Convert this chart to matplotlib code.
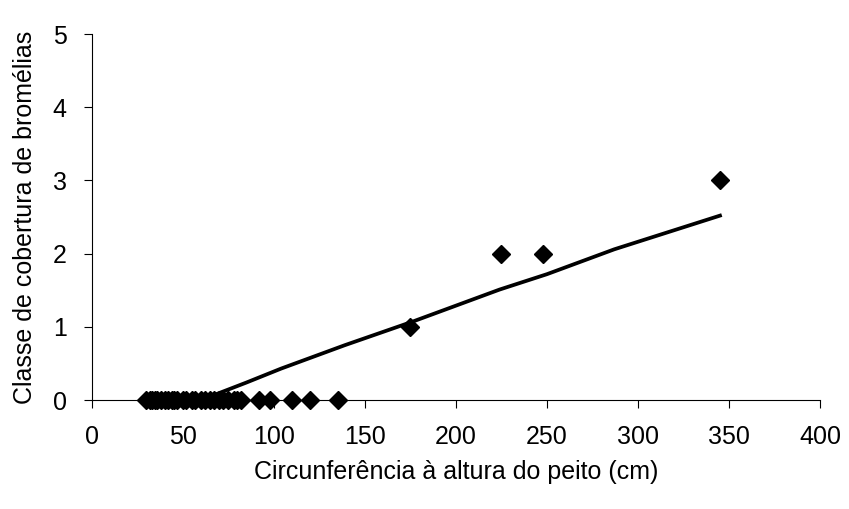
import matplotlib
matplotlib.use("Agg")
import matplotlib.pyplot as plt

plt.rcParams["font.family"] = ["Liberation Sans", "DejaVu Sans"]

# observed points
cap = [30, 32, 33, 35, 36, 38, 40, 42, 44, 45, 47, 50, 52, 55, 57, 60, 62,
       65, 67, 70, 72, 75, 78, 80, 82, 92, 98, 110, 120, 135,
       175, 225, 248, 345]
classe = [0] * 30 + [1, 2, 2, 3]

# fitted curve
fit_x = [30, 60, 85, 104, 139, 176, 224, 250, 287, 345]
fit_y = [0, 0, 0.24, 0.43, 0.75, 1.07, 1.51, 1.72, 2.06, 2.52]

fig = plt.figure(figsize=(8.49, 5.09), dpi=100)
ax = fig.add_axes([0.108, 0.214, 0.858, 0.719])

ax.plot(fit_x, fit_y, color="black", lw=2.7, zorder=2)
ax.plot(cap, classe, linestyle="none", marker="D", markersize=9.5,
        color="black", zorder=3, clip_on=False)

ax.set_xlim(0, 400)
ax.set_ylim(0, 5)
ax.set_xticks(range(0, 401, 50))
ax.set_yticks(range(0, 6))
ax.spines["top"].set_visible(False)
ax.spines["right"].set_visible(False)
for s in ["left", "bottom"]:
    ax.spines[s].set_color("black")
    ax.spines[s].set_linewidth(0.8)
ax.tick_params(direction="out", length=6, width=0.8, labelsize=18)
ax.tick_params(axis="x", pad=12)
ax.tick_params(axis="y", pad=12)

ax.set_xlabel("Circunferência à altura do peito (cm)", fontsize=18, labelpad=8)
ax.set_ylabel("Classe de cobertura de bromélias", fontsize=18, labelpad=11)

fig.savefig("out.png", dpi=100)
